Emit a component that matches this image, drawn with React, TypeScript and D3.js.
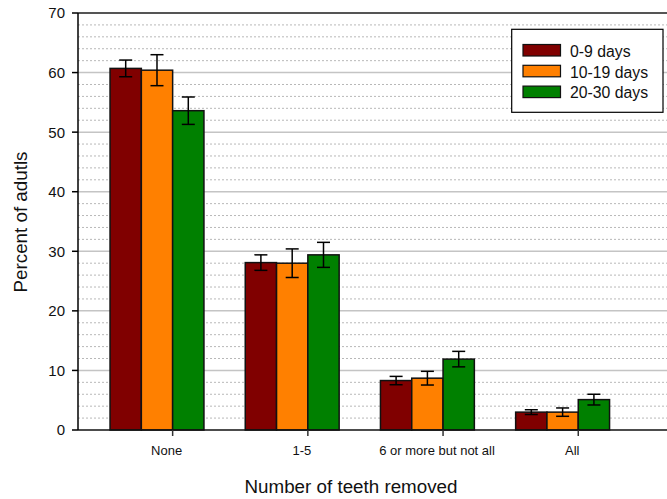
import React from "react";
import * as d3 from "d3";

// Share of adults by number of teeth removed, grouped by days of poor health
const categories = ["None", "1-5", "6 or more but not all", "All"];
const seriesNames = ["0-9 days", "10-19 days", "20-30 days"];
const values0to9 = [60.7, 28.1, 8.3, 3.0];
const values10to19 = [60.4, 28.0, 8.7, 3.0];
const values20to30 = [53.6, 29.4, 11.9, 5.1];
const errors0to9 = [1.4, 1.3, 0.7, 0.4];
const errors10to19 = [2.6, 2.4, 1.15, 0.7];
const errors20to30 = [2.3, 2.1, 1.3, 0.9];
const yTicks = [0, 10, 20, 30, 40, 50, 60, 70];
const colors = ["#800000", "#ff8000", "#008000"];

const W = 667;
const H = 499;
const left = 78;
const top = 13;
const bottom = 430;

export default function App() {
  const values = [values0to9, values10to19, values20to30];
  const errors = [errors0to9, errors10to19, errors20to30];

  const y = d3.scaleLinear().domain([0, 70]).range([bottom, top]);
  const x = d3.scaleLinear().domain([0.3, 4.7]).range([left, 672.9]);
  const barW = 0.2315; // in category units
  const minor = d3.range(0, 70.001, 2).filter((v) => v % 10 !== 0);
  const font = "Arial, 'Liberation Sans', sans-serif";

  return (
    <svg
      width={W}
      height={H}
      style={{ position: "absolute", left: 0, top: 0, background: "#fff" }}
      fontFamily={font}
    >
      {/* grid */}
      {minor.map((v) => (
        <line
          key={"m" + v}
          x1={left}
          x2={W}
          y1={y(v)}
          y2={y(v)}
          stroke="#b8b8b8"
          strokeWidth={1}
          strokeDasharray="2,2"
        />
      ))}
      {yTicks.slice(1, -1).map((v) => (
        <line
          key={"g" + v}
          x1={left}
          x2={W}
          y1={y(v)}
          y2={y(v)}
          stroke="#c4c4c4"
          strokeWidth={1.5}
        />
      ))}

      {/* bars */}
      {categories.map((c, i) =>
        values.map((vals, s) => {
          const x0 = x(i + 1 + (s - 2) * barW);
          const x1 = x(i + 1 + (s - 1) * barW);
          return (
            <rect
              key={c + s}
              x={x0}
              y={y(vals[i])}
              width={x1 - x0}
              height={y(0) - y(vals[i])}
              fill={colors[s]}
              stroke="#111"
              strokeWidth={1.5}
            />
          );
        })
      )}

      {/* error bars */}
      {categories.map((c, i) =>
        values.map((vals, s) => {
          const cx = x(i + 1 + (s - 1.5) * barW);
          const hi = y(vals[i] + errors[s][i]);
          const lo = y(vals[i] - errors[s][i]);
          return (
            <g key={"e" + c + s} stroke="#000" strokeWidth={1.5}>
              <line x1={cx} x2={cx} y1={hi} y2={lo} />
              <line x1={cx - 6.5} x2={cx + 6.5} y1={hi} y2={hi} />
              <line x1={cx - 6.5} x2={cx + 6.5} y1={lo} y2={lo} />
            </g>
          );
        })
      )}

      {/* frame */}
      <line x1={left} x2={W} y1={top} y2={top} stroke="#555" strokeWidth={2} />
      <line x1={left} x2={W} y1={bottom} y2={bottom} stroke="#111" strokeWidth={1.5} />
      <line x1={left} x2={left} y1={top} y2={bottom} stroke="#000" strokeWidth={1.5} />

      {/* y axis */}
      {yTicks.map((v) => (
        <g key={"y" + v}>
          <line x1={left - 6} x2={left} y1={y(v)} y2={y(v)} stroke="#000" strokeWidth={1.5} />
          <text x={left - 13} y={y(v)} dy="0.36em" textAnchor="end" fontSize={15} fill="#111">
            {v}
          </text>
        </g>
      ))}

      {/* x axis */}
      {categories.map((c, i) => (
        <g key={"x" + c}>
          <line x1={x(i + 1)} x2={x(i + 1)} y1={bottom} y2={bottom + 6} stroke="#333" strokeWidth={1.5} />
          <text x={x(i + 1) - 6} y={455} textAnchor="middle" fontSize={13} fill="#111">
            {c}
          </text>
        </g>
      ))}

      {/* axis titles */}
      <text x={351} y={493} textAnchor="middle" fontSize={18.8} fill="#111">
        Number of teeth removed
      </text>
      <text
        transform="translate(27,222) rotate(-90)"
        textAnchor="middle"
        fontSize={18.8}
        fill="#111"
      >
        Percent of adutls
      </text>

      {/* legend */}
      <rect x={511.7} y={29.3} width={151.3} height={83} fill="#fff" stroke="#000" strokeWidth={1.2} />
      {seriesNames.map((n, s) => (
        <g key={n} transform={`translate(0,${s * 20.8})`}>
          <rect x={523} y={44.5} width={37.5} height={11.5} fill={colors[s]} stroke="#111" strokeWidth={1.2} />
          <text x={570} y={56.8} fontSize={15.8} fill="#111">
            {n}
          </text>
        </g>
      ))}
    </svg>
  );
}
